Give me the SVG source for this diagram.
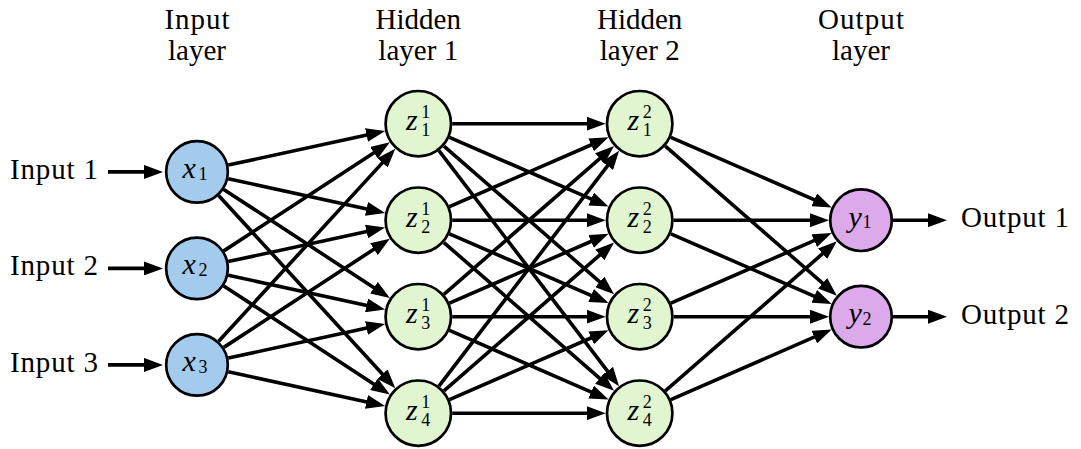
<svg xmlns="http://www.w3.org/2000/svg" width="1081" height="449" viewBox="0 0 1081 449">
<style>
.t{font-family:"Liberation Serif","Times New Roman",serif;font-size:29px;fill:#000}
.m{font-family:"Liberation Serif","Times New Roman",serif;font-size:30px;font-style:italic;fill:#000}
.s{font-family:"Liberation Serif","Times New Roman",serif;font-size:18px;fill:#000}
.in{fill:#a2cbed;stroke:#000;stroke-width:2.7}
.hid{fill:#e1f5d1;stroke:#000;stroke-width:2.7}
.out{fill:#dcaaeb;stroke:#000;stroke-width:2.7}
.e{stroke:#000;stroke-width:3.6;fill:none;marker-end:url(#ah)}
</style>
<defs>
<marker id="ah" markerUnits="userSpaceOnUse" markerWidth="19" markerHeight="14" refX="11" refY="7" orient="auto" viewBox="0 0 19 14"><path d="M0,0 L19,7 L0,14 z" fill="#000"/></marker>
</defs>
<rect width="1081" height="449" fill="#fff"/>
<g id="headers">
<text class="t" x="197" y="28.5" text-anchor="middle" textLength="65">Input</text>
<text class="t" x="197" y="60" text-anchor="middle">layer</text>
<text class="t" x="418.3" y="28.5" text-anchor="middle">Hidden</text>
<text class="t" x="418.3" y="60" text-anchor="middle" textLength="80">layer 1</text>
<text class="t" x="639.7" y="28.5" text-anchor="middle">Hidden</text>
<text class="t" x="639.7" y="60" text-anchor="middle" textLength="80">layer 2</text>
<text class="t" x="861" y="28.5" text-anchor="middle" textLength="86">Output</text>
<text class="t" x="861" y="60" text-anchor="middle">layer</text>
</g>
<g id="io-labels">
<text class="t" x="98" y="178.9" text-anchor="end" textLength="88">Input 1</text>
<text class="t" x="98" y="275.4" text-anchor="end" textLength="88">Input 2</text>
<text class="t" x="98" y="371.9" text-anchor="end" textLength="88">Input 3</text>
<text class="t" x="961" y="227.2" textLength="108">Output 1</text>
<text class="t" x="961" y="323.7" textLength="108">Output 2</text>
</g>
<g id="connectors">
<line class="e" x1="108" y1="171.9" x2="155" y2="171.9"/>
<line class="e" x1="108" y1="268.4" x2="155" y2="268.4"/>
<line class="e" x1="108" y1="364.9" x2="155" y2="364.9"/>
<line class="e" x1="228.27" y1="165.08" x2="377.26" y2="132.65"/>
<line class="e" x1="228.27" y1="178.72" x2="377.26" y2="211.25"/>
<line class="e" x1="223.78" y1="189.42" x2="383.15" y2="293.71"/>
<line class="e" x1="218.63" y1="195.48" x2="389.91" y2="382.25"/>
<line class="e" x1="223.78" y1="250.88" x2="383.15" y2="146.69"/>
<line class="e" x1="228.27" y1="261.58" x2="377.26" y2="229.15"/>
<line class="e" x1="228.27" y1="275.22" x2="377.26" y2="307.75"/>
<line class="e" x1="223.78" y1="285.92" x2="383.15" y2="390.21"/>
<line class="e" x1="218.63" y1="341.32" x2="389.91" y2="154.65"/>
<line class="e" x1="223.78" y1="347.38" x2="383.15" y2="243.19"/>
<line class="e" x1="228.27" y1="358.08" x2="377.26" y2="325.65"/>
<line class="e" x1="228.27" y1="371.72" x2="377.26" y2="404.25"/>
<line class="e" x1="452.3" y1="123.7" x2="597.7" y2="123.7"/>
<line class="e" x1="449.47" y1="137.28" x2="601.2" y2="203.42"/>
<line class="e" x1="443.93" y1="146.04" x2="608.04" y2="289.1"/>
<line class="e" x1="438.95" y1="150.71" x2="614.19" y2="379.84"/>
<line class="e" x1="449.47" y1="206.62" x2="601.2" y2="140.48"/>
<line class="e" x1="452.3" y1="220.2" x2="597.7" y2="220.2"/>
<line class="e" x1="449.47" y1="233.78" x2="601.2" y2="299.92"/>
<line class="e" x1="443.93" y1="242.54" x2="608.04" y2="385.6"/>
<line class="e" x1="443.93" y1="294.36" x2="608.04" y2="151.3"/>
<line class="e" x1="449.47" y1="303.12" x2="601.2" y2="236.98"/>
<line class="e" x1="452.3" y1="316.7" x2="597.7" y2="316.7"/>
<line class="e" x1="449.47" y1="330.28" x2="601.2" y2="396.42"/>
<line class="e" x1="438.95" y1="386.19" x2="614.19" y2="157.06"/>
<line class="e" x1="443.93" y1="390.86" x2="608.04" y2="247.8"/>
<line class="e" x1="449.47" y1="399.62" x2="601.2" y2="333.48"/>
<line class="e" x1="452.3" y1="413.2" x2="597.7" y2="413.2"/>
<line class="e" x1="670.87" y1="137.28" x2="824.33" y2="204.22"/>
<line class="e" x1="665.33" y1="146.04" x2="830.85" y2="290.42"/>
<line class="e" x1="673.7" y1="220.2" x2="821" y2="220.2"/>
<line class="e" x1="670.87" y1="233.78" x2="824.33" y2="300.72"/>
<line class="e" x1="670.87" y1="303.12" x2="824.33" y2="236.18"/>
<line class="e" x1="673.7" y1="316.7" x2="821" y2="316.7"/>
<line class="e" x1="665.33" y1="390.86" x2="830.85" y2="246.48"/>
<line class="e" x1="670.87" y1="399.62" x2="824.33" y2="332.68"/>
<line class="e" x1="893" y1="220.2" x2="939" y2="220.2"/>
<line class="e" x1="893" y1="316.7" x2="939" y2="316.7"/>
</g>
<g id="x1"><circle class="in" cx="197" cy="171.9" r="30.8"/><text class="m" x="182.5" y="177.9">x</text><text class="s" x="198.5" y="179.9">1</text></g>
<g id="x2"><circle class="in" cx="197" cy="268.4" r="30.8"/><text class="m" x="182.5" y="274.4">x</text><text class="s" x="198.5" y="276.4">2</text></g>
<g id="x3"><circle class="in" cx="197" cy="364.9" r="30.8"/><text class="m" x="182.5" y="370.9">x</text><text class="s" x="198.5" y="372.9">3</text></g>
<g id="h1_1"><circle class="hid" cx="418.3" cy="123.7" r="32.7"/><text class="m" x="406" y="130">z</text><text class="s" x="421.3" y="118">1</text><text class="s" x="421.3" y="136">1</text></g>
<g id="h1_2"><circle class="hid" cx="418.3" cy="220.2" r="32.7"/><text class="m" x="406" y="226.5">z</text><text class="s" x="421.3" y="214.5">1</text><text class="s" x="421.3" y="232.5">2</text></g>
<g id="h1_3"><circle class="hid" cx="418.3" cy="316.7" r="32.7"/><text class="m" x="406" y="323">z</text><text class="s" x="421.3" y="311">1</text><text class="s" x="421.3" y="329">3</text></g>
<g id="h1_4"><circle class="hid" cx="418.3" cy="413.2" r="32.7"/><text class="m" x="406" y="419.5">z</text><text class="s" x="421.3" y="407.5">1</text><text class="s" x="421.3" y="425.5">4</text></g>
<g id="h2_1"><circle class="hid" cx="639.7" cy="123.7" r="32.7"/><text class="m" x="627.4" y="130">z</text><text class="s" x="642.7" y="118">2</text><text class="s" x="642.7" y="136">1</text></g>
<g id="h2_2"><circle class="hid" cx="639.7" cy="220.2" r="32.7"/><text class="m" x="627.4" y="226.5">z</text><text class="s" x="642.7" y="214.5">2</text><text class="s" x="642.7" y="232.5">2</text></g>
<g id="h2_3"><circle class="hid" cx="639.7" cy="316.7" r="32.7"/><text class="m" x="627.4" y="323">z</text><text class="s" x="642.7" y="311">2</text><text class="s" x="642.7" y="329">3</text></g>
<g id="h2_4"><circle class="hid" cx="639.7" cy="413.2" r="32.7"/><text class="m" x="627.4" y="419.5">z</text><text class="s" x="642.7" y="407.5">2</text><text class="s" x="642.7" y="425.5">4</text></g>
<g id="y1"><circle class="out" cx="861" cy="220.2" r="30.8"/><text class="m" x="848.5" y="226.7">y</text><text class="s" x="862.5" y="228.2">1</text></g>
<g id="y2"><circle class="out" cx="861" cy="316.7" r="30.8"/><text class="m" x="848.5" y="323.2">y</text><text class="s" x="862.5" y="324.7">2</text></g>
</svg>
